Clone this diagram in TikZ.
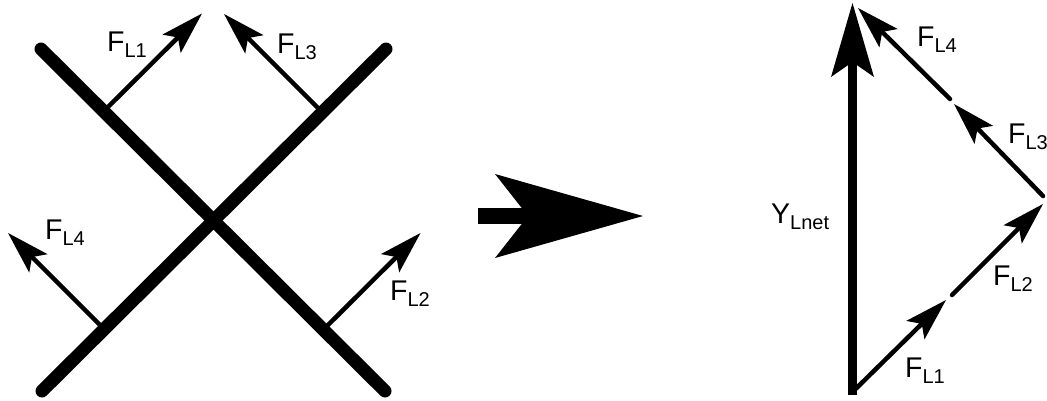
\documentclass[tikz,border=0pt]{standalone}
\usepackage{fontspec}
\setmainfont{Liberation Sans}
\usetikzlibrary{arrows.meta}
\newcommand{\flab}[2]{\fontsize{28.5}{30}\selectfont #1\raisebox{-6pt}{\fontsize{20}{22}\selectfont #2}}
\begin{document}
\begin{tikzpicture}[x=1pt,y=-1pt,
  bar/.style={line width=13pt, line cap=round},
  force/.style={line width=4.5pt, line cap=round, -{Stealth[length=43pt,width=26pt,inset=9pt,line width=0pt]}},
  net/.style={line width=9pt, -{Stealth[length=74pt,width=43pt,inset=15pt,line width=0pt]}},
  lab/.style={inner sep=0pt, anchor=base west}]
\useasboundingbox (0,0) rectangle (1047,400);
% crossing bars
\coordinate (b1a) at (41,49);
\coordinate (b1b) at (385,391);
\coordinate (b2a) at (42,391);
\coordinate (b2b) at (386,49);
% left force arrows
\coordinate (s1) at (103.5,111.5); \coordinate (t1) at (202,13.5);
\coordinate (s3) at (322.5,112.5); \coordinate (t3) at (224,14);
\coordinate (s4) at (104.5,329.5); \coordinate (t4) at (8,233);
\coordinate (s2) at (322.5,330.5); \coordinate (t2) at (420.5,233);
\draw[force] (s1) -- (t1);
\draw[force] (s3) -- (t3);
\draw[force] (s4) -- (t4);
\draw[force] (s2) -- (t2);
\draw[bar] (b1a) -- (b1b);
\draw[bar] (b2a) -- (b2b);
\node[lab] (l1) at (107,51) {\flab{F}{L1}};
\node[lab] (l3) at (277,53) {\flab{F}{L3}};
\node[lab] (l4) at (45,239) {\flab{F}{L4}};
\node[lab] (l2) at (390,300) {\flab{F}{L2}};
% middle arrow
\fill (478,208) rectangle (530,224);
\fill (495,174) -- (643,216) -- (495,258) -- (528,216) -- cycle;
% right vector polygon
\coordinate (o) at (852.5,395);
\coordinate (ytip) at (852.5,3);
\coordinate (r1s) at (853,391.5); \coordinate (r1t) at (946,300);
\coordinate (r2s) at (952,295); \coordinate (r2t) at (1043,204);
\coordinate (r3s) at (1043,196); \coordinate (r3t) at (954,104);
\coordinate (r4s) at (950,99); \coordinate (r4t) at (858,8);
\draw[net] (o) -- (ytip);
\draw[force] (r1s) -- (r1t);
\draw[force] (r2s) -- (r2t);
\draw[force] (r3s) -- (r3t);
\draw[force] (r4s) -- (r4t);
\node[lab] (ly) at (771,223) {\flab{Y}{Lnet}};
\node[lab] (r4l) at (917,46) {\flab{F}{L4}};
\node[lab] (r3l) at (1008,143) {\flab{F}{L3}};
\node[lab] (r2l) at (993,285) {\flab{F}{L2}};
\node[lab] (r1l) at (905,377) {\flab{F}{L1}};
\end{tikzpicture}
\end{document}
